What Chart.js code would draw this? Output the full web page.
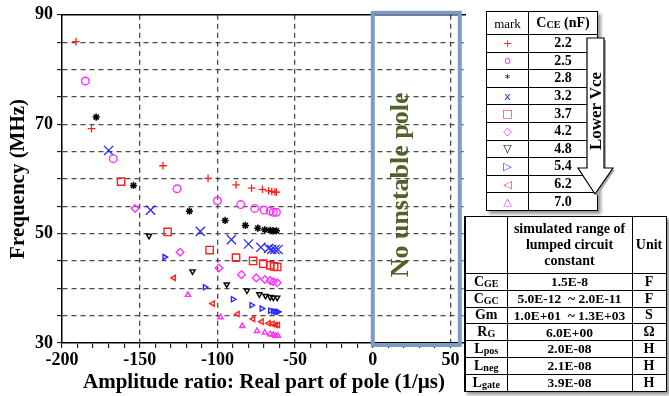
<!DOCTYPE html>
<html lang="en">
<head>
<meta charset="UTF-8" />
<title>Pole map vs C_CE</title>
<script src="https://cdn.jsdelivr.net/npm/chart.js"></script>
<style>
  body { margin: 0; background: #fff; font-family: "Liberation Serif", "Times New Roman", serif; }
  #wrap { position: relative; width: 669px; height: 396px; overflow: hidden; }
  #plot { position: absolute; left: 0; top: 0; }
  table { position: absolute; border-collapse: collapse; background: #fff; color: #000; table-layout: fixed; }
  td { border: 1px solid #000; padding: 0; text-align: center; font-weight: bold; line-height: 1; }
  sub { font-size: 72%; vertical-align: -1px; }

  #legend { left: 486px; top: 11px; width: 111px; box-shadow: 3px 3px 3px #9a9a9a; }
  #legend td { font-size: 14px; height: 16.6px; }
  #legend td.mk { font-weight: normal; font-family: "DejaVu Sans", sans-serif; font-size: 11px; }
  #legend tr.head td { height: 22px; }
  #legend tr.head td.mk { font-family: "Liberation Serif", serif; font-size: 13px; }

  #consts { left: 464px; top: 216px; width: 201px; border-left: 2px solid #000; box-shadow: 3px 3px 3px #9a9a9a; }
  #consts td { font-size: 14px; height: 15.8px; }
  #consts tr.head td { height: 56px; line-height: 1.12; font-size: 14px; }
  #consts td.val { font-size: 13.5px; }

  #arrow { position: absolute; left: 0; top: 0; pointer-events: none; }
</style>
</head>
<body>
<div id="wrap">
  <canvas id="plot" width="669" height="396"></canvas>

  <table id="legend">
    <colgroup><col style="width:42px"><col style="width:69px"></colgroup>
    <tr class="head"><td class="mk">mark</td><td>C<sub>CE</sub> (nF)</td></tr>
    <tr><td class="mk" style="color:#ff2020">+</td><td>2.2</td></tr>
    <tr><td class="mk" style="color:#ff33ff">o</td><td>2.5</td></tr>
    <tr><td class="mk" style="color:#000">*</td><td>2.8</td></tr>
    <tr><td class="mk" style="color:#2828ff">x</td><td>3.2</td></tr>
    <tr><td class="mk" style="color:#ff2020">□</td><td>3.7</td></tr>
    <tr><td class="mk" style="color:#ff33ff;font-weight:bold">◇</td><td>4.2</td></tr>
    <tr><td class="mk" style="color:#000;font-weight:bold">▽</td><td>4.8</td></tr>
    <tr><td class="mk" style="color:#2828ff;font-weight:bold">▷</td><td>5.4</td></tr>
    <tr><td class="mk" style="color:#ff2020;font-weight:bold">◁</td><td>6.2</td></tr>
    <tr><td class="mk" style="color:#ff33ff;font-weight:bold">△</td><td>7.0</td></tr>
  </table>

  <svg id="arrow" width="669" height="396">
    <polygon points="589,40 606,40 606,170 615,170 597,196 580,170 589,170" fill="#a8a8a8" />
    <polygon points="587,38 604,38 604,168 613,168 595,194 578,168 587,168" fill="#fff" stroke="#000" stroke-width="1.2" />
    <text x="0" y="0" transform="translate(601,111) rotate(-90)" text-anchor="middle"
          font-family="Liberation Serif" font-weight="bold" font-size="17">Lower Vce</text>
  </svg>

  <table id="consts">
    <colgroup><col style="width:42px"><col style="width:125px"><col style="width:34px"></colgroup>
    <tr class="head"><td></td><td>simulated range of<br>lumped circuit<br>constant</td><td>Unit</td></tr>
    <tr><td>C<sub>GE</sub></td><td class="val">1.5E-8</td><td>F</td></tr>
    <tr><td>C<sub>GC</sub></td><td class="val">5.0E-12 &nbsp;~ 2.0E-11</td><td>F</td></tr>
    <tr><td>Gm</td><td class="val">1.0E+01 &nbsp;~ 1.3E+03</td><td>S</td></tr>
    <tr><td>R<sub>G</sub></td><td class="val">6.0E+00</td><td>Ω</td></tr>
    <tr><td>L<sub>pos</sub></td><td class="val">2.0E-08</td><td>H</td></tr>
    <tr><td>L<sub>neg</sub></td><td class="val">2.1E-08</td><td>H</td></tr>
    <tr><td>L<sub>gate</sub></td><td class="val">3.9E-08</td><td>H</td></tr>
  </table>
</div>

<script>
  // pole positions: real part (1/us) and frequency (MHz), one pair per C_CE
  const re22 = [-191, -181, -135, -106, -88, -78, -71, -67, -65, -63, -62];
  const fr22 = [85.1, 69.2, 62.4, 60.1, 58.9, 58.3, 58.1, 57.8, 57.7, 57.6, 57.6];
  const re25 = [-185, -167, -126, -100, -85, -76, -70, -66, -64, -62];
  const fr25 = [77.9, 63.7, 58.2, 56.0, 55.3, 54.6, 54.3, 54.1, 53.9, 53.9];
  const re28 = [-178, -154, -118, -95, -82, -74, -69.5, -66, -64, -62];
  const fr28 = [71.3, 58.8, 54.1, 52.4, 51.5, 51.0, 50.7, 50.6, 50.5, 50.5];
  const re32 = [-170, -143, -111, -91, -80, -72, -67, -65, -63, -61];
  const fr32 = [65.2, 54.3, 50.4, 48.9, 48.1, 47.5, 47.3, 47.1, 47.1, 47.1];
  const re37 = [-162, -132, -105, -88, -77, -70.5, -66, -63.5, -61.5];
  const fr37 = [59.5, 50.3, 47.0, 45.6, 45.0, 44.5, 44.2, 44.0, 43.9];
  const re42 = [-153, -124, -99, -84.5, -75, -69.5, -66, -64, -61.5];
  const fr42 = [54.6, 46.6, 43.7, 42.5, 41.9, 41.6, 41.4, 41.2, 41.0];
  const re48 = [-144, -116, -94, -81, -73, -69, -66, -64, -61.5];
  const fr48 = [49.6, 43.1, 40.7, 39.6, 38.9, 38.6, 38.4, 38.3, 38.3];
  const re54 = [-134, -108, -90, -78, -71.5, -66, -64, -62.5, -61];
  const fr54 = [45.7, 40.2, 38.0, 36.9, 36.3, 35.9, 35.8, 35.7, 35.7];
  const re62 = [-128, -103, -87, -77, -71.5, -67, -64.5, -62.5, -61];
  const fr62 = [41.9, 37.2, 35.3, 34.4, 33.9, 33.6, 33.5, 33.3, 33.3];
  const re70 = [-119, -98, -84, -74.5, -69.5, -66, -64, -62.5, -61];
  const fr70 = [38.8, 34.7, 33.1, 32.2, 31.9, 31.6, 31.5, 31.3, 31.3];

  const capLabels = ['2.2', '2.5', '2.8', '3.2', '3.7', '4.2', '4.8', '5.4', '6.2', '7.0'];
  const xTickLabels = [-200, -150, -100, -50, 0, 50];
  const yTickLabels = [30, 50, 70, 90];

  const RED = '#ff2020', MAG = '#ff33ff', BLK = '#000000', BLU = '#2828ff';

  function pts(xs, ys) {
    return xs.map((x, i) => ({ x: x, y: ys[i] }));
  }

  function series(label, xs, ys, style, color, radius, width, rotation) {
    return {
      label: label,
      data: pts(xs, ys),
      pointStyle: style,
      pointRadius: radius,
      pointBorderWidth: width,
      pointRotation: rotation || 0,
      borderColor: color,
      backgroundColor: 'rgba(0,0,0,0)',
      showLine: false
    };
  }

  const datasets = [
    series(capLabels[0], re22, fr22, 'cross', RED, 3.8, 1.3),
    series(capLabels[1], re25, fr25, 'circle', MAG, 3.8, 1.4),
    series(capLabels[2], re28, fr28, 'star', BLK, 3.6, 1.5),
    series(capLabels[3], re32, fr32, 'crossRot', BLU, 6.5, 1.3),
    series(capLabels[4], re37, fr37, 'rect', RED, 5.2, 1.4),
    series(capLabels[5], re42, fr42, 'rectRot', MAG, 3.8, 1.4),
    series(capLabels[6], re48, fr48, 'triangle', BLK, 3.0, 1.4, 180),
    series(capLabels[7], re54, fr54, 'triangle', BLU, 3.0, 1.4, 90),
    series(capLabels[8], re62, fr62, 'triangle', RED, 3.0, 1.4, -90),
    series(capLabels[9], re70, fr70, 'triangle', MAG, 3.0, 1.4, 0)
  ];

  const SERIF = '"Liberation Serif", "Times New Roman", serif';

  // top frame line, the "no unstable pole" box and its caption
  const framePlugin = {
    id: 'framePlugin',
    beforeDatasetsDraw(chart) {
      const { ctx, chartArea } = chart;
      ctx.save();
      ctx.strokeStyle = '#000';
      ctx.lineWidth = 1.5;
      ctx.beginPath();
      ctx.moveTo(chartArea.left, chartArea.top);
      ctx.lineTo(chartArea.right, chartArea.top);
      ctx.stroke();
      ctx.restore();
    },
    afterDatasetsDraw(chart) {
      const { ctx, chartArea, scales } = chart;
      const x0 = scales.x.getPixelForValue(0);
      const x1 = scales.x.getPixelForValue(56);
      const y0 = chartArea.top - 2;
      const y1 = chartArea.bottom + 2;
      ctx.save();
      ctx.strokeStyle = '#7a9cc6';
      ctx.lineWidth = 4;
      ctx.strokeRect(x0, y0, x1 - x0, y1 - y0);
      ctx.translate(x0 + 29, (y0 + y1) / 2 + 6);
      ctx.rotate(-Math.PI / 2);
      ctx.fillStyle = '#4f6228';
      ctx.font = 'bold 26px ' + SERIF;
      ctx.textAlign = 'center';
      ctx.textBaseline = 'middle';
      ctx.fillText('No unstable pole', 0, 0);
      ctx.restore();
    }
  };

  new Chart(document.getElementById('plot').getContext('2d'), {
    type: 'scatter',
    data: { datasets: datasets },
    plugins: [framePlugin],
    options: {
      responsive: false,
      animation: false,
      layout: { padding: { top: 14, right: 203, left: 0, bottom: 0 } },
      plugins: { legend: { display: false }, tooltip: { enabled: false } },
      scales: {
        x: {
          type: 'linear',
          min: -200,
          max: 60,
          afterFit: (s) => { s.height = 53; },
          ticks: {
            stepSize: 10,
            autoSkip: false,
            maxRotation: 0,
            padding: 2,
            color: '#000',
            font: { family: SERIF, size: 18, weight: 'bold' },
            callback: (v) => (xTickLabels.includes(v) ? String(v) : '')
          },
          grid: {
            color: (c) => (c.tick && c.tick.value % 50 === 0 && c.tick.value !== -200 ? '#4a4a4a' : 'rgba(0,0,0,0)'),
            lineWidth: 1.3,
            tickColor: '#000',
            tickLength: 5,
            tickWidth: 1
          },
          border: { color: '#000', width: 1.5, dash: [5, 4] },
          title: {
            display: true,
            text: 'Amplitude ratio: Real part of pole (1/\u00b5s)',
            color: '#000',
            font: { family: SERIF, size: 21, weight: 'bold' },
            padding: { top: 0, bottom: 1 }
          }
        },
        y: {
          type: 'linear',
          min: 30,
          max: 90,
          afterFit: (s) => { s.width = 62; },
          ticks: {
            stepSize: 5,
            autoSkip: false,
            padding: 4,
            color: '#000',
            font: { family: SERIF, size: 18, weight: 'bold' },
            callback: (v) => (yTickLabels.includes(v) ? String(v) : '')
          },
          grid: {
            color: (c) => (c.tick && c.tick.value > 30 && c.tick.value < 90 ? '#4a4a4a' : 'rgba(0,0,0,0)'),
            lineWidth: 1.3,
            tickColor: '#000',
            tickLength: 5,
            tickWidth: 1
          },
          border: { color: '#000', width: 1.5, dash: [5, 4] },
          title: {
            display: true,
            text: 'Frequency (MHz)',
            color: '#000',
            font: { family: SERIF, size: 21, weight: 'bold' },
            padding: { top: 6, bottom: 0 }
          }
        }
      }
    }
  });
</script>
</body>
</html>
